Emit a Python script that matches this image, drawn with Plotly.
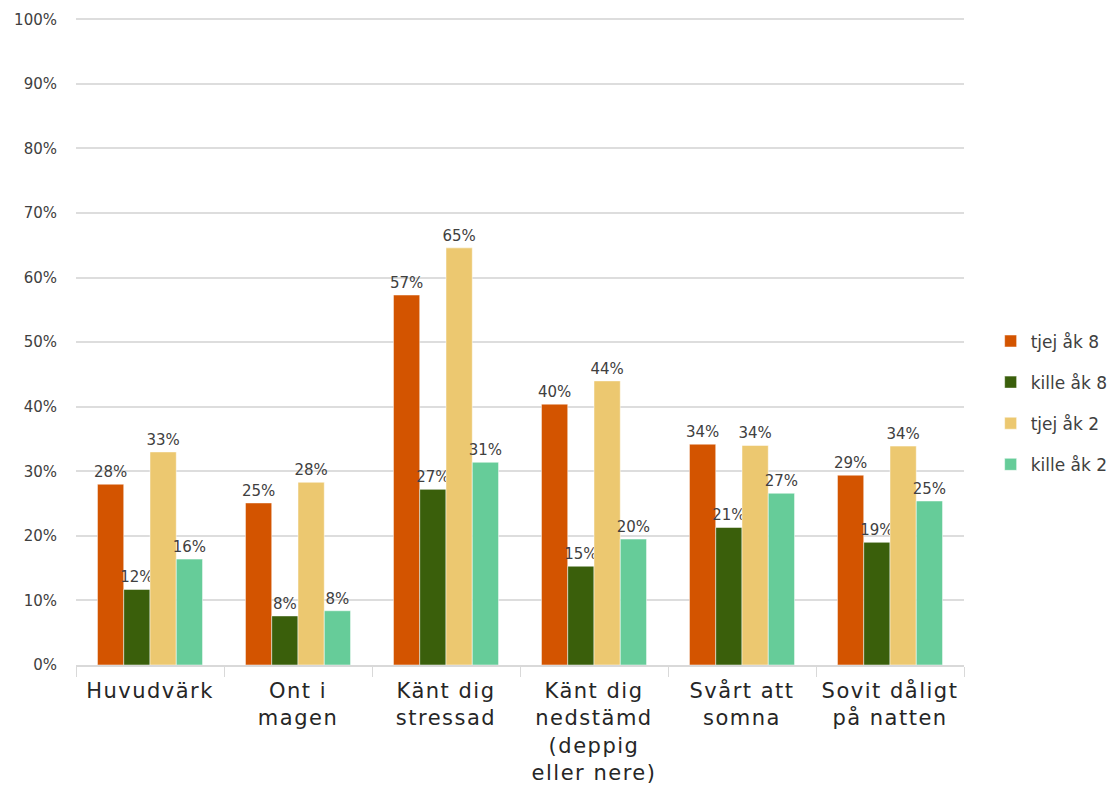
import plotly.graph_objects as go

categories = ["Huvudvärk", "Ont i<br>magen", "Känt dig<br>stressad",
              "Känt dig<br>nedstämd<br>(deppig<br>eller nere)", "Svårt att<br>somna",
              "Sovit dåligt<br>på natten"]
series_names = ["tjej åk 8", "kille åk 8", "tjej åk 2", "kille åk 2"]
tjej_ak8 = [0.280, 0.251, 0.573, 0.404, 0.342, 0.294]
kille_ak8 = [0.117, 0.076, 0.272, 0.153, 0.213, 0.190]
tjej_ak2 = [0.330, 0.283, 0.646, 0.440, 0.340, 0.339]
kille_ak2 = [0.164, 0.084, 0.314, 0.195, 0.266, 0.254]
colors = ["#D35400", "#3A5F0B", "#ECC870", "#66CC99"]

values = [tjej_ak8, kille_ak8, tjej_ak2, kille_ak2]
FONT = "'DejaVu Sans', sans-serif"

fig = go.Figure()
for name, vals, col in zip(series_names, values, colors):
    fig.add_trace(go.Bar(
        x=categories, y=vals, name=name, legendgroup=name,
        marker=dict(color=col, line=dict(color="white", width=0.5)),
        texttemplate="%{y:.0%}", textposition="outside",
        textfont=dict(size=15, color="#404040", family=FONT),
        constraintext="none", cliponaxis=False,
    ))

fig.update_layout(
    barmode="group", bargap=0.29, bargroupgap=0,
    width=1112, height=795,
    margin=dict(l=76, r=148, t=18, b=130, autoexpand=False),
    paper_bgcolor="white", plot_bgcolor="white",
    font=dict(family=FONT, color="#404040"),
    legend=dict(x=1.03, y=0.405, xanchor="left", yanchor="middle",
                font=dict(size=17, color="#404040"), tracegroupgap=16,
                itemwidth=30),
    yaxis=dict(range=[0, 1.002], tickformat=".0%", dtick=0.1,
               showgrid=True, gridcolor="#DDDDDD", gridwidth=1.5,
               zeroline=False, showline=False, automargin=False,
               tickfont=dict(size=15, color="#404040"), ticklabelstandoff=18),
    xaxis=dict(showline=True, linecolor="#D9D9D9", linewidth=1.5,
               ticks="outside", tickson="boundaries", ticklen=10,
               tickcolor="#D9D9D9", automargin=False, ticklabelstandoff=6,
               tickfont=dict(size=21, color="#262626")),
)

post = """
document.body.style.margin='0';
document.querySelectorAll('.xtick text').forEach(function(e){e.style.letterSpacing='1.5px';});
"""
fig.write_html("out.html", config={"displayModeBar": False}, post_script=post)
